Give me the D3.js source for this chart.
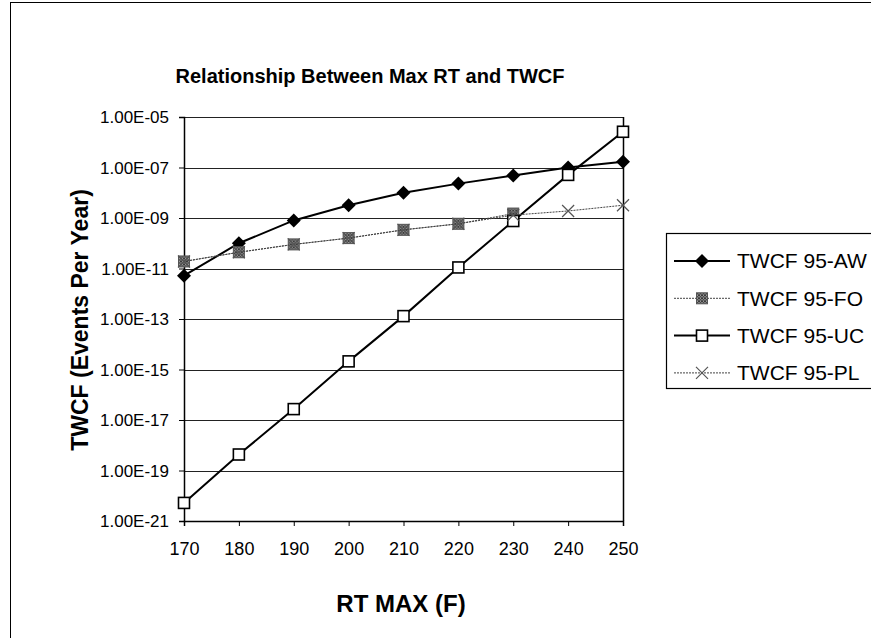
<!DOCTYPE html>
<html>
<head>
<meta charset="utf-8">
<script src="https://cdn.jsdelivr.net/npm/d3@7"></script>
<style>
  body { margin: 0; background: #fff; }
  svg { display: block; font-family: "Liberation Sans", Arial, sans-serif; }
</style>
</head>
<body>
<svg width="871" height="638"></svg>
<script>
// data
const rtMax = [170, 180, 190, 200, 210, 220, 230, 240, 250];
const twcfAW = [5.2e-12, 1.0e-10, 8.0e-10, 3.2e-9, 1.0e-8, 2.3e-8, 4.8e-8, 1.0e-7, 1.7e-7];
const twcfFO = [1.9e-11, 4.4e-11, 9.0e-11, 1.6e-10, 3.4e-10, 5.9e-10, 1.5e-9];
const twcfUC = [5.2e-21, 4.3e-19, 2.7e-17, 2.1e-15, 1.3e-13, 1.1e-11, 7.6e-10, 5.1e-8, 2.6e-6];
const twcfPL = [1.9e-11, 4.4e-11, 9.0e-11, 1.6e-10, 3.4e-10, 5.9e-10, 1.3e-9, 1.9e-9, 3.2e-9];
const seriesNames = ["TWCF 95-AW", "TWCF 95-FO", "TWCF 95-UC", "TWCF 95-PL"];
const yTicks = [1e-21, 1e-19, 1e-17, 1e-15, 1e-13, 1e-11, 1e-9, 1e-7, 1e-5];

const svg = d3.select("svg");

// outer chart border
svg.append("rect")
    .attr("x", 10.5).attr("y", 2.5)
    .attr("width", 880).attr("height", 660)
    .attr("fill", "none").attr("stroke", "#000").attr("stroke-width", 1);

const plot = { left: 184, right: 623, top: 117, bottom: 521 };

const x = d3.scaleLinear().domain([170, 250]).range([plot.left, plot.right]);
const y = d3.scaleLog().domain([1e-21, 1e-5]).range([plot.bottom, plot.top]);

// gridlines
svg.append("g")
    .selectAll("line")
    .data(yTicks)
    .enter()
    .append("line")
    .attr("x1", plot.left).attr("x2", plot.right)
    .attr("y1", d => Math.round(y(d)) + 0.5).attr("y2", d => Math.round(y(d)) + 0.5)
    .attr("stroke", "#222").attr("stroke-width", 1.2);

// plot area right border
svg.append("line")
    .attr("x1", plot.right + 0.5).attr("x2", plot.right + 0.5)
    .attr("y1", plot.top).attr("y2", plot.bottom)
    .attr("stroke", "#000").attr("stroke-width", 1.5);

// axes
const fmt = d => {
    const e = Math.round(Math.log10(d));
    return "1.00E-" + String(-e).padStart(2, "0");
};
const yAxis = svg.append("g")
    .attr("transform", "translate(" + plot.left + ",0)")
    .call(d3.axisLeft(y).tickValues(yTicks).tickFormat(fmt).tickSize(5).tickPadding(10));
const xAxis = svg.append("g")
    .attr("transform", "translate(0," + plot.bottom + ")")
    .call(d3.axisBottom(x).tickValues(rtMax).tickSize(5).tickPadding(16));

[yAxis, xAxis].forEach(g => {
    g.select(".domain").attr("stroke", "#000").attr("stroke-width", 1.5);
    g.selectAll(".tick line").attr("stroke", "#000");
    g.selectAll("text")
        .attr("font-family", "Liberation Sans, Arial, sans-serif")
        .attr("fill", "#000");
});
yAxis.selectAll("text").attr("dy", "0.35em").attr("font-size", "17px");
xAxis.selectAll("text").attr("font-size", "18px");

// titles
svg.append("text")
    .attr("x", 370).attr("y", 83)
    .attr("text-anchor", "middle")
    .attr("font-size", "20px").attr("font-weight", "bold")
    .text("Relationship Between Max RT and TWCF");

svg.append("text")
    .attr("x", 401).attr("y", 612)
    .attr("text-anchor", "middle")
    .attr("font-size", "24px").attr("font-weight", "bold")
    .text("RT MAX (F)");

svg.append("text")
    .attr("transform", "translate(88,320) rotate(-90)")
    .attr("text-anchor", "middle")
    .attr("font-size", "23px").attr("font-weight", "bold")
    .text("TWCF (Events Per Year)");

// series
const series = [
    { name: seriesNames[0], values: twcfAW, dash: null, width: 2, marker: "diamond" },
    { name: seriesNames[1], values: twcfFO, dash: "2,1", width: 1, marker: "hatch" },
    { name: seriesNames[2], values: twcfUC, dash: null, width: 2, marker: "square" },
    { name: seriesNames[3], values: twcfPL, dash: "2,1", width: 1, marker: "cross" }
];

const defs = svg.append("defs");
const pat = defs.append("pattern")
    .attr("id", "hatch").attr("width", 3).attr("height", 3)
    .attr("patternUnits", "userSpaceOnUse");
pat.append("rect").attr("width", 3).attr("height", 3).attr("fill", "#999");
pat.append("path").attr("d", "M0,0L3,3M3,0L0,3").attr("stroke", "#222").attr("stroke-width", 0.8);

function drawMarker(g, type) {
    if (type === "diamond") {
        g.append("path").attr("d", "M0,-7L7,0L0,7L-7,0Z").attr("fill", "#000");
    } else if (type === "hatch") {
        g.append("rect").attr("x", -5.5).attr("y", -5.5).attr("width", 11).attr("height", 11)
            .attr("fill", "url(#hatch)").attr("stroke", "#555").attr("stroke-width", 1);
    } else if (type === "square") {
        g.append("rect").attr("x", -5.5).attr("y", -5.5).attr("width", 11).attr("height", 11)
            .attr("fill", "#fff").attr("stroke", "#000").attr("stroke-width", 1.6);
    } else if (type === "cross") {
        g.append("path").attr("d", "M-6,-6L6,6M6,-6L-6,6")
            .attr("stroke", "#555").attr("stroke-width", 1.2);
    }
}

const line = d3.line().x((d, i) => x(rtMax[i])).y(d => y(d));

series.forEach(s => {
    svg.append("path")
        .datum(s.values)
        .attr("d", line)
        .attr("fill", "none")
        .attr("stroke", s.dash ? "#444" : "#000")
        .attr("stroke-width", s.width)
        .attr("stroke-dasharray", s.dash);
    svg.append("g")
        .selectAll("g")
        .data(s.values)
        .enter()
        .append("g")
        .attr("transform", (d, i) => "translate(" + x(rtMax[i]) + "," + y(d) + ")")
        .each(function () { drawMarker(d3.select(this), s.marker); });
});

// legend
const legend = svg.append("g").attr("transform", "translate(666,233)");
legend.append("rect")
    .attr("x", 0.5).attr("y", 0.5).attr("width", 230).attr("height", 155)
    .attr("fill", "#fff").attr("stroke", "#000").attr("stroke-width", 1.2);
series.forEach((s, i) => {
    const ly = 28 + i * 37.3;
    legend.append("line")
        .attr("x1", 8).attr("x2", 64).attr("y1", ly).attr("y2", ly)
        .attr("stroke", s.dash ? "#444" : "#000")
        .attr("stroke-width", s.width)
        .attr("stroke-dasharray", s.dash);
    const m = legend.append("g").attr("transform", "translate(36," + ly + ")");
    drawMarker(m, s.marker);
    legend.append("text")
        .attr("x", 71).attr("y", ly).attr("dy", "0.35em")
        .attr("font-size", "21px")
        .text(s.name);
});
</script>
</body>
</html>
